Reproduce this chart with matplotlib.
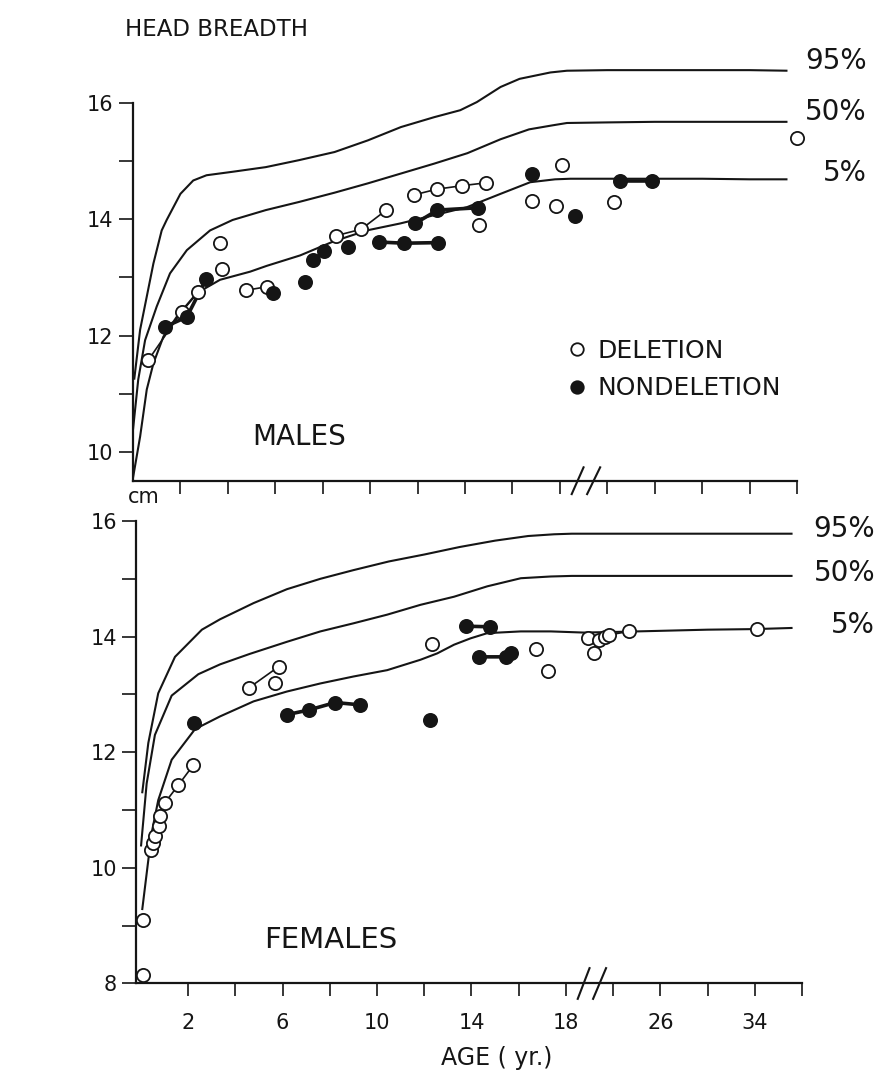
import matplotlib
matplotlib.use('agg')
import matplotlib.pyplot as plt
from matplotlib.lines import Line2D
import numpy as np

ink = '#151515'

# ---- percentile curves, males (age in years, head breadth in cm)
m95_age = [0.05, 0.3, 0.58, 0.86, 1.21, 1.42, 2.0, 2.54, 3.1, 4.2, 5.6, 7.0, 8.5, 9.9, 11.3, 12.7,
           13.8, 14.5, 15.5, 16.3, 17.6, 18.6, 22, 26, 30, 34, 37.2]
m95_cm = [11.24, 12.10, 12.67, 13.24, 13.81, 13.99, 14.44, 14.67, 14.76, 14.82, 14.90, 15.02, 15.16,
          15.36, 15.59, 15.76, 15.88, 16.02, 16.28, 16.42, 16.53, 16.56, 16.57, 16.57, 16.57, 16.57, 16.56]
m50_age = [0.0, 0.22, 0.51, 1.0, 1.56, 2.27, 3.25, 4.2, 5.6, 7.0, 8.5, 9.9, 11.3, 12.7, 14.1, 15.5,
           16.7, 17.7, 18.6, 22, 26, 30, 34, 37.2]
m50_cm = [10.38, 11.24, 11.92, 12.50, 13.07, 13.47, 13.81, 13.99, 14.16, 14.30, 14.46, 14.62, 14.79,
          14.96, 15.14, 15.38, 15.55, 15.62, 15.66, 15.67, 15.68, 15.68, 15.68, 15.68]
m5_age = [0.0, 0.3, 0.58, 0.86, 1.28, 1.84, 2.69, 3.67, 4.94, 5.64, 7.05, 8.45, 9.86, 11.27, 12.67,
          14.08, 15.5, 16.75, 17.8, 18.9, 22, 26, 30, 34, 37.2]
m5_cm = [9.55, 10.26, 11.07, 11.52, 11.98, 12.32, 12.73, 12.96, 13.10, 13.20, 13.38, 13.62, 13.81,
         13.93, 14.07, 14.21, 14.44, 14.64, 14.69, 14.70, 14.70, 14.70, 14.70, 14.69, 14.69]

# ---- percentile curves, females
f95_age = [0.05, 0.31, 0.73, 1.44, 2.58, 3.35, 4.77, 6.18, 7.6, 9.0, 10.5, 12.0, 13.5, 15.0, 16.4,
           17.5, 18.5, 22, 26, 30, 34, 37.2]
f95_cm = [11.29, 12.16, 13.02, 13.65, 14.12, 14.30, 14.58, 14.82, 15.00, 15.15, 15.30, 15.42, 15.55,
          15.66, 15.74, 15.77, 15.78, 15.78, 15.78, 15.78, 15.78, 15.78]
f50_age = [0.0, 0.24, 0.59, 1.3, 2.43, 3.35, 4.6, 6.18, 7.6, 9.0, 10.43, 11.84, 13.26, 14.67, 16.09,
           17.36, 18.5, 22, 26, 30, 34, 37.2]
f50_cm = [10.37, 11.46, 12.30, 12.98, 13.35, 13.52, 13.70, 13.91, 14.09, 14.23, 14.38, 14.55, 14.69,
          14.87, 15.01, 15.04, 15.05, 15.05, 15.05, 15.05, 15.05, 15.05]
f5_age = [0.05, 0.45, 0.73, 1.3, 2.29, 3.35, 4.77, 6.18, 7.6, 9.0, 10.43, 11.84, 12.55, 13.26, 13.96,
          14.67, 16.09, 17.36, 19.5, 22, 26, 30, 34, 37.2]
f5_cm = [9.27, 10.60, 11.17, 11.87, 12.40, 12.62, 12.88, 13.05, 13.19, 13.31, 13.42, 13.60, 13.71,
         13.86, 13.97, 14.06, 14.09, 14.09, 14.07, 14.08, 14.10, 14.12, 14.13, 14.15]

# ---- patients, males
m_del_age = [0.65, 2.05, 2.76, 3.67, 3.74, 4.78, 5.64, 8.57, 9.62, 10.68, 11.83, 12.81, 13.87, 14.89,
             14.57, 16.82, 17.85, 18.2, 22.6, 38.0]
m_del_cm = [11.58, 12.41, 12.75, 13.59, 13.14, 12.78, 12.84, 13.72, 13.83, 14.16, 14.42, 14.52, 14.58,
            14.63, 13.90, 14.32, 14.23, 14.93, 14.30, 15.41]
m_del_links = [[0, 1, 2], [5, 6], [7, 8, 9], [10, 11, 12, 13]]

m_non_age = [1.35, 2.27, 3.08, 5.89, 7.26, 7.61, 8.06, 9.08, 10.38, 11.43, 12.88, 11.90, 12.84, 14.53,
             16.82, 19.24, 23.1, 25.8]
m_non_cm = [12.15, 12.32, 12.97, 12.73, 12.93, 13.30, 13.45, 13.52, 13.61, 13.59, 13.60, 13.93, 14.16,
            14.20, 14.78, 14.06, 14.66, 14.66]
m_non_links = [[0, 1, 2], [5, 6], [8, 9, 10], [11, 12, 13], [16, 17]]

# ---- patients, females
f_del_age = [0.10, 0.10, 0.43, 0.52, 0.60, 0.75, 0.80, 1.0, 1.58, 2.22, 4.56, 5.83, 5.69, 12.34,
             16.72, 17.25, 19.84, 20.4, 20.82, 21.3, 21.66, 23.36, 34.2]
f_del_cm = [8.15, 9.10, 10.31, 10.43, 10.55, 10.72, 10.90, 11.12, 11.43, 11.78, 13.11, 13.48, 13.20,
            13.87, 13.78, 13.41, 13.97, 13.72, 13.94, 13.99, 14.03, 14.09, 14.13]
f_del_links = [[2, 3, 4, 5, 6, 7, 8, 9], [10, 11], [17, 18], [20, 21]]

f_non_age = [2.25, 6.18, 7.10, 8.23, 9.27, 12.24, 13.75, 14.78, 14.32, 15.45, 15.66]
f_non_cm = [12.51, 12.65, 12.73, 12.86, 12.82, 12.56, 14.18, 14.17, 13.65, 13.65, 13.71]
f_non_links = [[1, 2, 3, 4], [6, 7], [8, 9, 10]]

tick_ages = [2, 4, 6, 8, 10, 12, 14, 16, 18, 22, 26, 30, 34, 38]
tick_text = ['2', '', '6', '', '10', '', '14', '', '18', '', '26', '', '34', '']
pct_names = ['95%', '50%', '5%']


def fwd(a):
    a = np.asarray(a, dtype=float)
    return np.where(a <= 18, a, 18 + (a - 18) / 2.0)


def inv(u):
    u = np.asarray(u, dtype=float)
    return np.where(u <= 18, u, 18 + (u - 18) * 2.0)


def panel(ax, curves, dele, non, ylo, yhi, yticks, xlo, pct_y, pct_x, show_x):
    ax.set_xscale('function', functions=(fwd, inv))
    ax.set_xlim(xlo, 38)
    ax.set_ylim(ylo, yhi)

    for a, c in curves:
        ax.plot(a, c, color=ink, lw=1.5, solid_capstyle='butt', zorder=2)

    for (a, c, links), filled in [(dele, False), (non, True)]:
        for grp in links:
            ax.plot([a[i] for i in grp], [c[i] for i in grp], color=ink,
                    lw=2.6 if filled else 1.2, zorder=3)
        ax.plot(a, c, ls='none', marker='o', ms=9.5, mew=1.3, mec=ink,
                mfc=ink if filled else 'white', zorder=4, clip_on=False)

    for sp in ['top', 'right']:
        ax.spines[sp].set_visible(False)
    ax.spines['left'].set_bounds(ylo, yticks[-1])
    for sp in ['left', 'bottom']:
        ax.spines[sp].set_linewidth(1.6)
        ax.spines[sp].set_color(ink)

    ax.set_yticks(yticks)
    ax.set_yticklabels([str(t) if (t % 2 == 0) else '' for t in yticks])
    ax.set_xticks(tick_ages)
    ax.set_xticklabels(tick_text if show_x else [''] * len(tick_ages))
    ax.minorticks_off()
    ax.tick_params(axis='y', direction='out', length=10, width=1.2, pad=4,
                   labelsize=15, colors=ink)
    ax.tick_params(axis='x', direction='out', length=9, width=1.2, pad=12,
                   labelsize=15, colors=ink)

    # axis break marks
    for a0, a1 in [(19.0, 20.0), (20.3, 21.4)]:
        ax.plot([a0, a1], [-0.032, 0.032], transform=ax.get_xaxis_transform(),
                color=ink, lw=1.5, clip_on=False, zorder=5)

    for name, y in zip(pct_names, pct_y):
        ax.text(pct_x, y, name, transform=ax.get_yaxis_transform(), ha='right',
                va='center', fontsize=20, color=ink)


fig = plt.figure(figsize=(8.82, 10.81), dpi=100)
fig.patch.set_facecolor('white')

ax1 = fig.add_axes([0.1508, 0.5553, 0.7528, 0.3868])
panel(ax1,
      [(m95_age, m95_cm), (m50_age, m50_cm), (m5_age, m5_cm)],
      (m_del_age, m_del_cm, m_del_links), (m_non_age, m_non_cm, m_non_links),
      9.5, 16.7, list(range(10, 17)), 0.0, [16.72, 15.85, 14.80], 1.105, False)
ax1.text(7.0, 10.26, 'MALES', ha='center', va='center', fontsize=20, color=ink)

handles = [Line2D([], [], ls='none', marker='o', ms=9, mew=1.3, mec=ink, mfc='white'),
           Line2D([], [], ls='none', marker='o', ms=9, mew=1.3, mec=ink, mfc=ink)]
ax1.legend(handles, ['DELETION', 'NONDELETION'], loc='upper left',
           bbox_to_anchor=(0.655, 0.34), frameon=False, fontsize=18,
           handlelength=0.7, handletextpad=0.5, labelspacing=0.55,
           borderpad=0, borderaxespad=0, labelcolor=ink)

ax2 = fig.add_axes([0.1545, 0.0902, 0.7548, 0.4439])
panel(ax2,
      [(f95_age, f95_cm), (f50_age, f50_cm), (f5_age, f5_cm)],
      (f_del_age, f_del_cm, f_del_links), (f_non_age, f_non_cm, f_non_links),
      8.0, 16.3, list(range(8, 17)), -0.2, [15.86, 15.10, 14.20], 1.11, True)
ax2.text(8.05, 8.75, 'FEMALES', ha='center', va='center', fontsize=21, color=ink)

fig.text(125 / 882, 1 - 30 / 1081, 'HEAD BREADTH', ha='left', va='center',
         fontsize=16.5, color=ink)
fig.text(128 / 882, 1 - 497 / 1081, 'cm', ha='left', va='center', fontsize=15, color=ink)
fig.text(497 / 882, 1 - 1058 / 1081, 'AGE ( yr.)', ha='center', va='center',
         fontsize=17, color=ink)

fig.savefig('out.png', dpi=100, facecolor='white')
